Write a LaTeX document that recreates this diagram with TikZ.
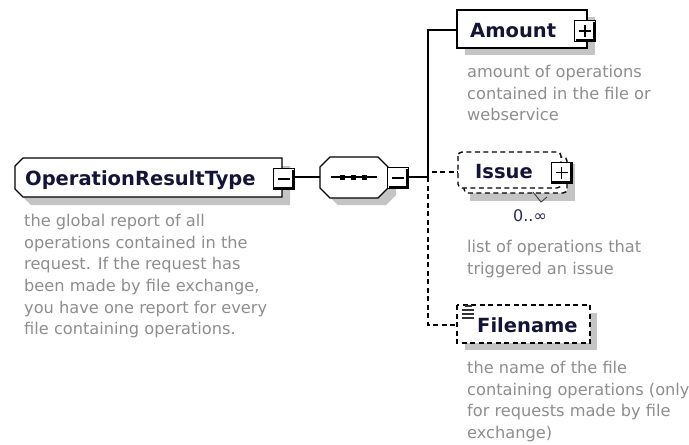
\documentclass[tikz,border=0pt]{standalone}
\usepackage{fontspec}
\setmainfont{DejaVu Sans}
\definecolor{lblcol}{HTML}{141438}
\definecolor{desccol}{HTML}{8E8E8E}
\definecolor{shadowcol}{HTML}{C4C4C4}
\definecolor{cardcol}{HTML}{2A2A55}
\begin{document}
\begin{tikzpicture}[x=1pt,y=-1pt,
  lbl/.style={font=\fontsize{19.5}{22}\selectfont\bfseries, text=lblcol, inner sep=0, anchor=base west},
  desc/.style={font=\fontsize{16.2}{21.7}\selectfont, text=desccol, align=left, anchor=north west, inner sep=0},
  shade/.style={fill=shadowcol, draw=none},
  boxline/.style={line width=1.4pt, fill=white},
  dboxline/.style={line width=1.4pt, fill=white, dash pattern=on 5pt off 3.5pt},
  conn/.style={line width=1.3pt},
  dconn/.style={line width=1.3pt, dash pattern=on 5pt off 3.5pt},
  pmminus/.pic={
    \draw[fill=white, line width=1pt] (-10.5,-10.5) rectangle (10.5,10.5);
    \draw[line width=2.2pt] (9.5,-9.5) -- (9.5,9.5) -- (-9.5,9.5);
    \draw[line width=1.4pt] (-6,0) -- (6,0);
  },
  pmplus/.pic={
    \draw[fill=white, line width=1pt] (-10.5,-10.5) rectangle (10.5,10.5);
    \draw[line width=2.2pt] (9.5,-9.5) -- (9.5,9.5) -- (-9.5,9.5);
    \draw[line width=1.4pt] (-6,0) -- (6,0) (0,-6) -- (0,6);
  }
]
\useasboundingbox[fill=white] (0,0) rectangle (689,445);

% ---------- OperationResultType ----------
\fill[shade] (31,166) -- (290,166) -- (290,205) -- (31,205) -- (23,197) -- (23,174) -- cycle;
\draw[boxline] (23,158) -- (282,158) -- (282,197) -- (23,197) -- (15,189) -- (15,166) -- cycle;
\node[lbl] (ort) at (25,185.5) {OperationResultType};
\pic at (283.5,179) {pmminus};
\coordinate (ortR) at (294,177);
\node[desc] (ortdesc) at (24,211) {\strut the global report of all\\operations contained in the\\request. If the request has\\been made by file exchange,\\you have one report for every\\file containing operations.};

% ---------- sequence compositor ----------
\fill[shade] (338,164) -- (386,164) -- (396,174) -- (396,195) -- (386,205) -- (338,205) -- (328,195) -- (328,174) -- cycle;
\draw[boxline] (330,157) -- (378,157) -- (388,167) -- (388,188) -- (378,198) -- (330,198) -- (320,188) -- (320,167) -- cycle;
\draw[line width=1.3pt] (331,177) -- (377,177);
\foreach \dx in {342,353,364} \fill (\dx-2.5,174.5) rectangle (\dx+2.5,179.5);
\pic at (398,178) {pmminus};
\coordinate (seqL) at (320,177);
\coordinate (seqR) at (408,177);

% ---------- bus ----------
\coordinate (bus) at (428,177);

% ---------- Amount ----------
\fill[shade] (465,17) rectangle (595,55);
\draw[boxline] (457,10) rectangle (587,48);
\node[lbl] (amount) at (470,37) {Amount};
\pic at (585,31) {pmplus};
\coordinate (amountL) at (457,30);
\node[desc] (amountdesc) at (467,62) {\strut amount of operations\\contained in the file or\\webservice};

% ---------- Issue ----------
\fill[shade] (470,164) rectangle (575,201);
\draw[dboxline, rounded corners=4pt] (464,157) rectangle (567,193);
\draw[dboxline, rounded corners=4pt] (458,152) rectangle (561,188);
\node[lbl] (issue) at (475,178) {Issue};
\pic at (561.5,172.5) {pmplus};
\draw[line width=0.9pt, black!75] (533,192) -- (541,202) -- (547,197);
\coordinate (issueL) at (458,172);
\node[font=\fontsize{16}{20}\selectfont, text=cardcol, inner sep=0] (card) at (530,216) {0..∞};
\node[desc] (issuedesc) at (467,237) {\strut list of operations that\\triggered an issue};

% ---------- Filename ----------
\fill[shade] (465,313) rectangle (597,350);
\draw[dboxline] (457,305) rectangle (590,343);
\foreach \yy/\xa/\xb in {306/465/472, 310/462/474, 314/462/474, 318/462/474}
  \draw[line width=1.5pt, black!80] (\xa,\yy) -- (\xb,\yy);
\node[lbl] (filename) at (477,332) {Filename};
\coordinate (fileL) at (457,325);
\node[desc] (filedesc) at (467,358) {\strut the name of the file\\containing operations (only\\for requests made by file\\exchange)};

% ---------- connectors ----------
\draw[conn] (ortR) -- (seqL);
\draw[conn] (seqR) -- (bus);
\draw[conn] (bus) |- (amountL);
\draw[dconn] (bus) |- (issueL);
\draw[dconn] (bus) |- (fileL);
\end{tikzpicture}
\end{document}
